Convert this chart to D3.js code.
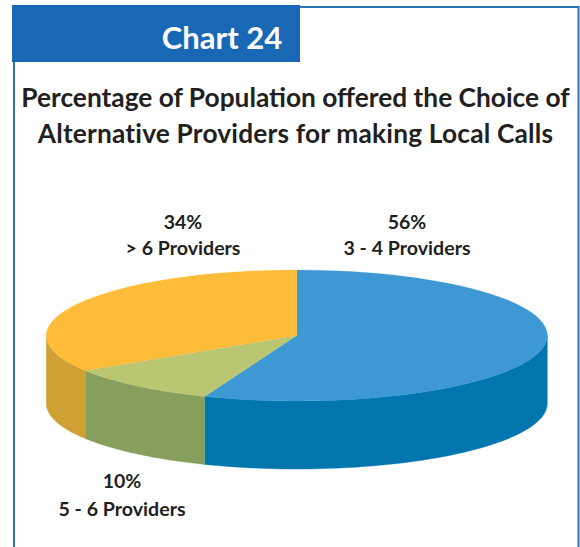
<!DOCTYPE html>
<html><head><meta charset="utf-8">
<script src="https://cdnjs.cloudflare.com/ajax/libs/d3/7.8.5/d3.min.js"></script>
<style>html,body{margin:0;padding:0;background:#fff}svg{display:block}text{font-family:Lato,"Open Sans",sans-serif}</style>
</head><body><svg id="c" width="580" height="547"></svg>
<script>
const chartLabel = "Chart 24";
const titleLines = ["Percentage of Population offered the Choice of","Alternative Providers for making Local Calls"];
const categories = ["3 - 4 Providers","5 - 6 Providers","> 6 Providers"];
const values = [56,10,34];
const topColors = ["#3d98d3","#bac671","#febc38"];
const sideColors = ["#0075ae","#879f5d","#cfa132"];
const labelPos = [[407,229,255],[122,488,516],[183,229,255]];

const svg = d3.select("#c");
const cx=296.8, cy=335.5, rx=250.5, ry=65.5, depth=68;
const frame="#2a72b8";
svg.append("path").attr("d","M14 547V7H578.5V547").attr("fill","none").attr("stroke",frame).attr("stroke-width",2);
svg.append("rect").attr("x",12).attr("y",5).attr("width",288).attr("height",57).attr("fill","#1868b5");
svg.append("text").attr("x",222).attr("y",49).attr("text-anchor","middle").attr("fill","#fff")
  .attr("font-size",31).attr("font-weight",700).text(chartLabel);
titleLines.forEach((t,i)=>svg.append("text").attr("x",295.5).attr("y",107+i*36).attr("text-anchor","middle")
  .attr("fill","#231f20").attr("font-size",26.3).attr("font-weight",700)
  .attr("letter-spacing",i?0.18:0).text(t));

const arcs = d3.pie().sort(null)(values);
const px=a=>cx+rx*Math.sin(a), py=a=>cy-ry*Math.cos(a);
const line=d3.line();
// side walls: only the front half (PI/2 .. 3PI/2) is visible
const sides = arcs.map((d,i)=>{
  const a0=Math.max(d.startAngle,Math.PI/2), a1=Math.min(d.endAngle,3*Math.PI/2);
  if(a1<=a0) return null;
  const as=d3.range(0,61).map(k=>a0+(a1-a0)*k/60);
  const pts=as.map(a=>[px(a),py(a)]).concat(as.slice().reverse().map(a=>[px(a),py(a)+depth]));
  return {i,d:line(pts)+"Z"};
}).filter(Boolean);
svg.selectAll(".side").data(sides).join("path").attr("class","side").attr("d",s=>s.d)
  .attr("fill",s=>sideColors[s.i]).attr("stroke",s=>sideColors[s.i]).attr("stroke-width",0.4);
const arcGen=d3.arc().innerRadius(0).outerRadius(rx);
svg.append("g").attr("transform",`translate(${cx},${cy}) scale(1,${ry/rx})`)
  .selectAll("path").data(arcs).join("path").attr("d",arcGen).attr("fill",(d,i)=>topColors[i])
  .attr("stroke",(d,i)=>topColors[i]).attr("stroke-width",0.4);

categories.forEach((c,i)=>{
  const [x,y1,y2]=labelPos[i];
  svg.append("text").attr("x",x).attr("y",y1).attr("text-anchor","middle").attr("fill","#231f20")
    .attr("font-size",19.5).attr("font-weight",700).text(values[i]+"%");
  svg.append("text").attr("x",x).attr("y",y2).attr("text-anchor","middle").attr("fill","#231f20")
    .attr("font-size",19.6).attr("font-weight",700).text(c);
});
</script></body></html>
